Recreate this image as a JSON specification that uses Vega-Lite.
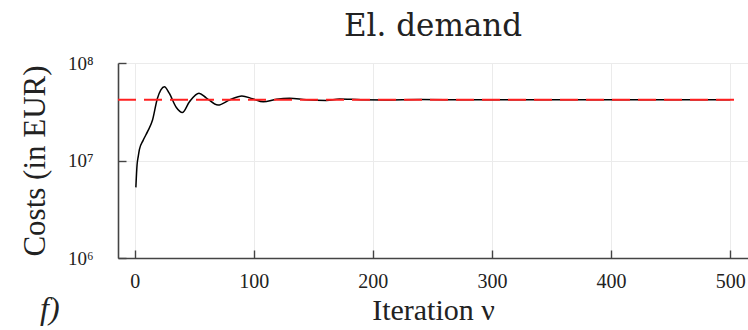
{
  "$schema": "https://vega.github.io/schema/vega-lite/v6.json",
  "width": 630,
  "height": 195,
  "autosize": "none",
  "padding": {"left": 118, "top": 63, "right": 0, "bottom": 72},
  "background": "white",
  "config": {
    "view": {"stroke": null},
    "font": "Liberation Serif",
    "axis": {
      "labelFont": "Liberation Serif",
      "titleFont": "Liberation Serif",
      "labelColor": "#222",
      "titleColor": "#222",
      "titleFontWeight": "normal",
      "domainColor": "#444",
      "domainWidth": 1.6,
      "tickColor": "#444",
      "tickWidth": 1.4,
      "gridColor": "#ebebeb",
      "gridWidth": 1
    }
  },
  "title": {
    "text": "El. demand",
    "font": "DejaVu Serif",
    "fontSize": 31,
    "fontWeight": "normal",
    "color": "#222",
    "anchor": "middle",
    "offset": 11
  },
  "datasets": {
    "cost": [
      {"it": 1, "cost": 5300000},
      {"it": 2, "cost": 9000000},
      {"it": 3, "cost": 11000000},
      {"it": 4, "cost": 13000000},
      {"it": 7, "cost": 16000000},
      {"it": 11, "cost": 20000000},
      {"it": 15, "cost": 26000000},
      {"it": 19, "cost": 43000000},
      {"it": 22, "cost": 53000000},
      {"it": 25, "cost": 57000000},
      {"it": 29, "cost": 49000000},
      {"it": 35, "cost": 35000000},
      {"it": 40, "cost": 31000000},
      {"it": 46, "cost": 40000000},
      {"it": 54, "cost": 49000000},
      {"it": 60, "cost": 44000000},
      {"it": 70, "cost": 37000000},
      {"it": 80, "cost": 42000000},
      {"it": 90, "cost": 46000000},
      {"it": 99, "cost": 43000000},
      {"it": 108, "cost": 40000000},
      {"it": 119, "cost": 42500000},
      {"it": 130, "cost": 43500000},
      {"it": 144, "cost": 42000000},
      {"it": 161, "cost": 41300000},
      {"it": 172, "cost": 42800000},
      {"it": 190, "cost": 42000000},
      {"it": 210, "cost": 41800000},
      {"it": 240, "cost": 42200000},
      {"it": 280, "cost": 42000000},
      {"it": 330, "cost": 42000000},
      {"it": 400, "cost": 42000000},
      {"it": 450, "cost": 42000000},
      {"it": 500, "cost": 42000000}
    ],
    "target": [
      {"it": -14, "cost": 42000000},
      {"it": 507, "cost": 42000000}
    ],
    "tag": [
      {"label": "f)", "it": -14, "cost": 1000000}
    ]
  },
  "layer": [
    {
      "data": {"name": "cost"},
      "mark": {"type": "line", "color": "black", "strokeWidth": 1.5, "interpolate": "monotone"},
      "encoding": {
        "x": {
          "field": "it",
          "type": "quantitative",
          "scale": {"domain": [-14, 515], "nice": false, "zero": false},
          "axis": {
            "values": [0, 100, 200, 300, 400, 500],
            "title": "Iteration ν",
            "titleFontSize": 30,
            "titlePadding": 4,
            "labelFontSize": 20,
            "labelPadding": 21,
            "tickSize": -8,
            "grid": true
          }
        },
        "y": {
          "field": "cost",
          "type": "quantitative",
          "scale": {"type": "log", "domain": [1000000, 100000000], "nice": false},
          "axis": {
            "values": [1000000, 10000000, 100000000],
            "labelExpr": "'10' + (datum.value < 5000000 ? '⁶' : datum.value < 50000000 ? '⁷' : '⁸')",
            "title": "Costs (in EUR)",
            "titleFontSize": 31,
            "titlePadding": 16,
            "labelFontSize": 19,
            "labelPadding": 33,
            "tickSize": -8,
            "grid": true
          }
        }
      }
    },
    {
      "data": {"name": "target"},
      "mark": {"type": "line", "color": "#ff2020", "strokeWidth": 1.8, "strokeDash": [18, 8]},
      "encoding": {
        "x": {"field": "it", "type": "quantitative"},
        "y": {"field": "cost", "type": "quantitative"}
      }
    },
    {
      "data": {"name": "tag"},
      "mark": {"type": "text", "font": "Liberation Serif", "fontStyle": "italic", "fontSize": 32, "color": "#222", "align": "left", "baseline": "alphabetic", "dx": -78, "dy": 61},
      "encoding": {
        "x": {"field": "it", "type": "quantitative"},
        "y": {"field": "cost", "type": "quantitative"},
        "text": {"field": "label"}
      }
    }
  ]
}
